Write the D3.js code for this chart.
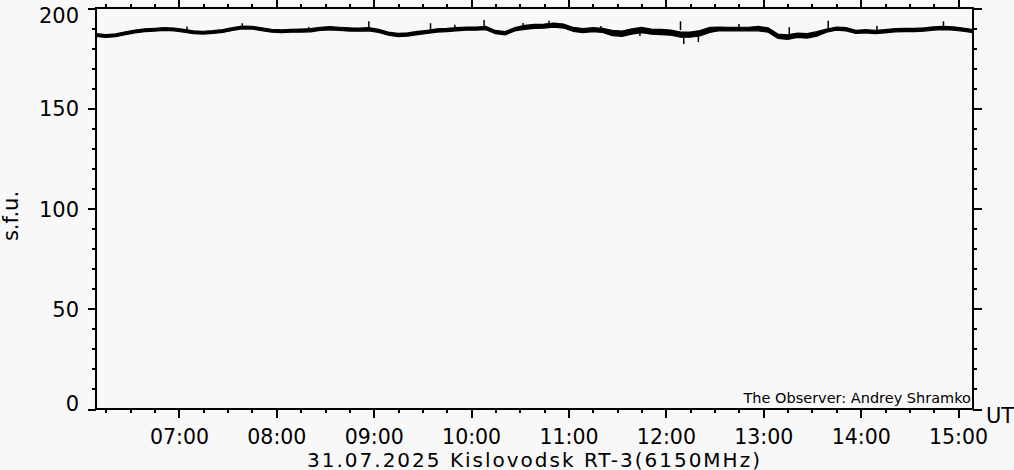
<!DOCTYPE html>
<html><head><meta charset="utf-8">
<script src="https://cdn.jsdelivr.net/npm/d3@7"></script>
<style>
html,body{margin:0;padding:0;background:#f8f8f8;}
svg{display:block;}
text{font-family:"DejaVu Sans",sans-serif;fill:#000;}
</style></head><body>
<svg id="chart" width="1014" height="470"></svg>
<script>
// ---- data ----
const title = "31.07.2025 Kislovodsk RT-3(6150MHz)";
const yLabel = "s.f.u.";
const xUnit = "UT";
const observer = "The Observer: Andrey Shramko";
const timeDomain = ["06:08:54", "15:09:12"];
const sampleStart = "06:09:00";
const sampleStepMin = 6;
// flux (s.f.u.) every 6 minutes from 06:09 UT
const flux = [
  186.5,186.0,186.4,187.4,188.3,188.9,189.2,189.5,189.3,188.6,
  187.9,187.7,188.0,188.5,189.5,190.3,190.2,189.4,188.7,188.4,
  188.6,188.7,188.9,189.6,189.9,189.6,189.3,189.2,189.4,188.6,
  187.2,186.5,186.8,187.5,188.1,188.8,189.0,189.4,189.7,189.7,
  190.0,188.0,187.4,189.4,190.3,190.8,191.0,191.5,191.0,189.3,
  188.7,189.2,188.8,187.5,187.2,188.3,189.0,188.2,188.0,187.7,
  186.7,186.7,187.4,189.1,189.6,189.5,189.5,189.5,189.7,189.0,
  185.9,185.5,186.4,186.1,187.1,188.7,189.7,189.4,188.1,188.4,
  188.0,188.4,188.9,189.0,189.0,189.3,189.8,190.0,189.8,189.2,
  188.5
];
// half-width of the noise band (s.f.u.)
const spread = [
  0.7,0.7,0.7,0.7,0.7,0.7,0.7,0.7,0.7,0.7,
  0.7,0.7,0.7,0.7,0.7,0.7,0.7,0.7,0.7,0.7,
  0.7,0.8,0.8,0.8,0.8,0.8,0.8,0.8,0.8,0.8,
  0.8,0.8,0.8,0.8,0.8,0.8,0.8,0.8,0.8,0.8,
  0.8,0.8,0.8,0.8,1.0,1.0,1.0,1.0,1.0,1.0,
  1.0,1.0,1.0,1.3,1.3,1.3,1.3,1.3,1.3,1.3,
  1.3,1.3,1.3,1.3,0.9,0.9,0.9,0.9,1.1,1.1,
  1.1,1.1,1.1,1.1,1.1,0.8,0.8,0.8,0.8,0.8,
  0.8,0.8,0.8,0.8,0.8,0.8,0.8,0.8,0.8,0.8,
  0.8
];
// isolated spikes: [time, from, to]
const spikes = [
  ["06:31", 187.0, 189.0],
  ["07:05", 189.0, 190.8],
  ["07:39", 190.0, 192.4],
  ["08:20", 188.5, 190.5],
  ["08:57", 189.0, 193.4],
  ["09:35", 189.5, 192.4],
  ["09:50", 189.5, 191.6],
  ["10:08", 190.0, 194.0],
  ["10:32", 190.5, 192.5],
  ["10:48", 191.0, 193.7],
  ["11:20", 188.5, 191.0],
  ["11:44", 188.5, 186.0],
  ["12:09", 189.0, 193.4],
  ["12:11", 186.0, 182.0],
  ["12:20", 186.0, 183.0],
  ["12:45", 189.5, 192.0],
  ["13:16", 186.0, 190.4],
  ["13:40", 189.5, 193.7],
  ["14:10", 189.0, 191.2],
  ["14:51", 190.0, 193.4]
];
const yMajorTicks = [0, 50, 100, 150, 200];
const yMinorTicks = [0,10,20,30,40,50,60,70,80,90,100,110,120,130,140,150,160,170,180,190,200];
const xMajorTicks = ["07:00","08:00","09:00","10:00","11:00","12:00","13:00","14:00","15:00"];

// ---- chart ----
const W = 1014, H = 470;
const P = {left: 96, right: 973, top: 8, bottom: 409};
const parseHMS = d3.utcParse("%H:%M:%S");
const parseHM = d3.utcParse("%H:%M");
const svg = d3.select("#chart");
svg.append("rect").attr("width", W).attr("height", H).attr("fill", "#f8f8f8");

const x = d3.scaleUtc().domain(timeDomain.map(parseHMS)).range([P.left, P.right]);
const y = d3.scaleLinear().domain([0, 200]).range([P.bottom, P.top]);

const t0 = parseHMS(sampleStart);
const data = flux.map((v, i) => ({t: d3.utcMinute.offset(t0, i * sampleStepMin), v, s: spread[i]}));

// trace
svg.append("path")
  .datum(data)
  .attr("d", d3.area().x(d => x(d.t)).y0(d => y(d.v - d.s)).y1(d => y(d.v + d.s)))
  .attr("fill", "#000").attr("stroke", "#000").attr("stroke-width", 1.2);
svg.append("g").selectAll("line").data(spikes).join("line")
  .attr("x1", d => x(parseHM(d[0]))).attr("x2", d => x(parseHM(d[0])))
  .attr("y1", d => y(d[1])).attr("y2", d => y(d[2]))
  .attr("stroke", "#000").attr("stroke-width", 1.5);

function styleAxis(g) {
  g.select(".domain").remove();
  g.selectAll("line").attr("stroke", "#000").attr("stroke-width", 2).attr("shape-rendering", "crispEdges");
  g.selectAll("text").attr("font-family", "DejaVu Sans").attr("font-size", 21).attr("fill", "#000");
}
const xMajor = xMajorTicks.map(parseHM);
const xMinor = x.ticks(d3.utcMinute.every(15));
const fmt = d3.utcFormat("%H:%M");

// bottom
svg.append("g").attr("transform", `translate(0,${P.bottom})`)
  .call(d3.axisBottom(x).tickValues(xMinor).tickSize(4).tickFormat("")).call(styleAxis);
svg.append("g").attr("transform", `translate(0,${P.bottom})`)
  .call(d3.axisBottom(x).tickValues(xMajor).tickSize(9).tickFormat(fmt)).call(styleAxis)
  .call(g => g.selectAll("text").attr("font-size", 20.5).attr("y", 34.5).attr("dy", null));
// top
svg.append("g").attr("transform", `translate(0,${P.top})`)
  .call(d3.axisTop(x).tickValues(xMinor).tickSize(4).tickFormat("")).call(styleAxis);
svg.append("g").attr("transform", `translate(0,${P.top})`)
  .call(d3.axisTop(x).tickValues(xMajor).tickSize(8).tickFormat("")).call(styleAxis);
// left
svg.append("g").attr("transform", `translate(${P.left},0)`)
  .call(d3.axisLeft(y).tickValues(yMinorTicks).tickSize(4).tickFormat("")).call(styleAxis);
svg.append("g").attr("transform", `translate(${P.left},0)`)
  .call(d3.axisLeft(y).tickValues(yMajorTicks).tickSize(8).tickPadding(9).tickFormat(d3.format("d"))).call(styleAxis)
  .call(g => g.selectAll("text").attr("dy", null).attr("y", d => d === 200 ? 14.3 : d === 0 ? 1.4 : 7.6));
// right
svg.append("g").attr("transform", `translate(${P.right},0)`)
  .call(d3.axisRight(y).tickValues(yMinorTicks).tickSize(4).tickFormat("")).call(styleAxis);
svg.append("g").attr("transform", `translate(${P.right},0)`)
  .call(d3.axisRight(y).tickValues(yMajorTicks).tickSize(9).tickFormat("")).call(styleAxis);

// frame
svg.append("rect").attr("x", P.left).attr("y", P.top)
  .attr("width", P.right - P.left).attr("height", P.bottom - P.top)
  .attr("fill", "none").attr("stroke", "#000").attr("stroke-width", 2).attr("shape-rendering", "crispEdges");

// texts
svg.append("text").attr("x", (P.left + P.right) / 2).attr("y", 466.5)
  .attr("text-anchor", "middle").attr("font-size", 20).attr("letter-spacing", 2).text(title);
svg.append("text").attr("transform", `translate(17.5,216) rotate(-90)`)
  .attr("text-anchor", "middle").attr("font-size", 21).text(yLabel);
svg.append("text").attr("x", 986).attr("y", 423).attr("font-size", 21).text(xUnit);
svg.append("text").attr("x", 971).attr("y", 403).attr("text-anchor", "end").attr("font-size", 14.5).text(observer);
</script>
</body></html>
